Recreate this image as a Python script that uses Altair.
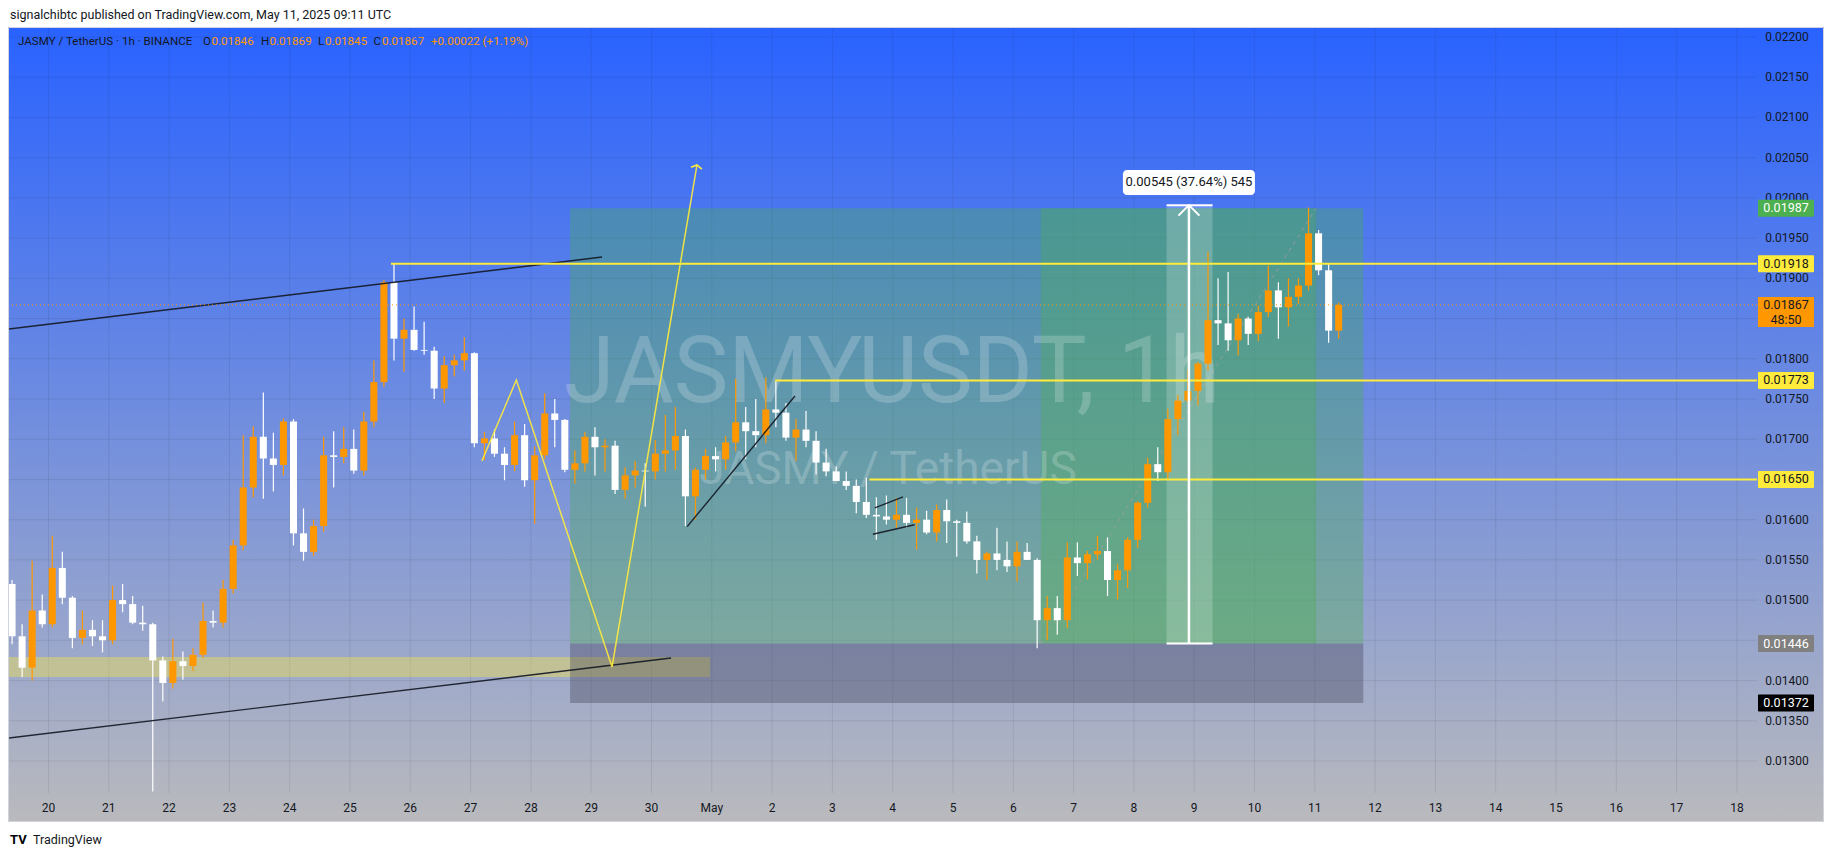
import altair as alt
import pandas as pd

# ---------------- values ----------------
# 4-hour buckets, start hour counted from 2025-04-20 00:00 UTC
bucket_hour = list(range(-16, 513, 4))
open_p = [0.01520, 0.01455, 0.01416, 0.01487, 0.01470, 0.01540, 0.01503, 0.01453, 0.01463, 0.01455,
          0.01450, 0.01500, 0.01495, 0.01472, 0.01470, 0.01425, 0.01397, 0.01424, 0.01418, 0.01432,
          0.01474, 0.01472, 0.01514, 0.01568, 0.01640, 0.01703, 0.01676, 0.01668, 0.01722, 0.01583,
          0.01560, 0.01592, 0.01680, 0.01678, 0.01688, 0.01661, 0.01722, 0.01771, 0.01895, 0.01825,
          0.01836, 0.01811, 0.01810, 0.01763, 0.01792, 0.01798, 0.01807, 0.01695, 0.01701, 0.01682,
          0.01668, 0.01705, 0.01649, 0.01680, 0.01732, 0.01724, 0.01662, 0.01670, 0.01703, 0.01690,
          0.01692, 0.01637, 0.01655, 0.01661, 0.01660, 0.01682, 0.01686, 0.01704, 0.01629, 0.01662,
          0.01679, 0.01675, 0.01696, 0.01721, 0.01710, 0.01705, 0.01737, 0.01733, 0.01702, 0.01712,
          0.01698, 0.01671, 0.01660, 0.01648, 0.01642, 0.01622, 0.01606, 0.01604, 0.01600, 0.01606,
          0.01596, 0.01600, 0.01584, 0.01612, 0.01598, 0.01596, 0.01573, 0.01550, 0.01558, 0.01550,
          0.01542, 0.01560, 0.01550, 0.01475, 0.01490, 0.01475, 0.01553, 0.01546, 0.01557, 0.01561,
          0.01525, 0.01537, 0.01575, 0.01621, 0.01669, 0.01659, 0.01725, 0.01748, 0.01760, 0.01794,
          0.01848, 0.01844, 0.01823, 0.01850, 0.01831, 0.01858, 0.01885, 0.01864, 0.01877, 0.01891,
          0.01956, 0.01910, 0.01835]
high_p = [0.01525, 0.01470, 0.01549, 0.01507, 0.01580, 0.01560, 0.01505, 0.01487, 0.01475, 0.01475,
          0.01518, 0.01520, 0.01505, 0.01493, 0.01472, 0.01430, 0.01452, 0.01436, 0.01440, 0.01497,
          0.01487, 0.01525, 0.01575, 0.01705, 0.01716, 0.01758, 0.01708, 0.01726, 0.01725, 0.01614,
          0.01600, 0.01703, 0.01710, 0.01715, 0.01712, 0.01734, 0.01798, 0.01898, 0.01918, 0.01850,
          0.01865, 0.01846, 0.01815, 0.01803, 0.01805, 0.01827, 0.01808, 0.01709, 0.01712, 0.01690,
          0.01722, 0.01719, 0.01691, 0.01757, 0.01750, 0.01725, 0.01686, 0.01709, 0.01715, 0.01700,
          0.01698, 0.01665, 0.01673, 0.01670, 0.01699, 0.01730, 0.01740, 0.01712, 0.01665, 0.01688,
          0.01690, 0.01704, 0.01775, 0.01740, 0.01750, 0.01777, 0.01772, 0.01745, 0.01725, 0.01735,
          0.01710, 0.01688, 0.01666, 0.01660, 0.01650, 0.01652, 0.01628, 0.01630, 0.01627, 0.01627,
          0.01615, 0.01611, 0.01619, 0.01625, 0.01600, 0.01610, 0.01580, 0.01560, 0.01590, 0.01573,
          0.01573, 0.01571, 0.01552, 0.01505, 0.01505, 0.01572, 0.01572, 0.01561, 0.01580, 0.01578,
          0.01545, 0.01578, 0.01623, 0.01677, 0.01690, 0.01738, 0.01755, 0.01786, 0.01796, 0.01933,
          0.01900, 0.01908, 0.01856, 0.01852, 0.01866, 0.01916, 0.01895, 0.01900, 0.01900, 0.01988,
          0.01960, 0.01918, 0.01870]
low_p = [0.01445, 0.01404, 0.01400, 0.01466, 0.01466, 0.01495, 0.01440, 0.01445, 0.01443, 0.01435,
         0.01445, 0.01485, 0.01470, 0.01462, 0.01262, 0.01374, 0.01390, 0.01401, 0.01412, 0.01428,
         0.01466, 0.01466, 0.01508, 0.01562, 0.01628, 0.01626, 0.01635, 0.01655, 0.01568, 0.01549,
         0.01555, 0.01585, 0.01640, 0.01670, 0.01657, 0.01655, 0.01715, 0.01765, 0.01798, 0.01784,
         0.01810, 0.01805, 0.01750, 0.01745, 0.01778, 0.01785, 0.01690, 0.01674, 0.01678, 0.01649,
         0.01660, 0.01641, 0.01595, 0.01675, 0.01690, 0.01659, 0.01645, 0.01660, 0.01655, 0.01660,
         0.01632, 0.01626, 0.01640, 0.01616, 0.01650, 0.01660, 0.01662, 0.01592, 0.01600, 0.01650,
         0.01660, 0.01662, 0.01685, 0.01675, 0.01690, 0.01695, 0.01715, 0.01698, 0.01673, 0.01690,
         0.01656, 0.01654, 0.01648, 0.01637, 0.01608, 0.01602, 0.01575, 0.01594, 0.01590, 0.01590,
         0.01563, 0.01582, 0.01573, 0.01571, 0.01554, 0.01570, 0.01533, 0.01525, 0.01537, 0.01535,
         0.01523, 0.01550, 0.01440, 0.01450, 0.01457, 0.01465, 0.01530, 0.01526, 0.01550, 0.01505,
         0.01501, 0.01515, 0.01565, 0.01615, 0.01648, 0.01650, 0.01705, 0.01745, 0.01742, 0.01785,
         0.01817, 0.01810, 0.01804, 0.01817, 0.01822, 0.01852, 0.01825, 0.01840, 0.01868, 0.01885,
         0.01904, 0.01820, 0.01825]
close_p = [0.01455, 0.01416, 0.01487, 0.01470, 0.01540, 0.01503, 0.01453, 0.01463, 0.01455, 0.01450,
           0.01500, 0.01495, 0.01472, 0.01470, 0.01425, 0.01397, 0.01424, 0.01418, 0.01432, 0.01474,
           0.01472, 0.01514, 0.01568, 0.01640, 0.01703, 0.01676, 0.01668, 0.01722, 0.01583, 0.01560,
           0.01592, 0.01680, 0.01678, 0.01688, 0.01661, 0.01722, 0.01771, 0.01895, 0.01825, 0.01836,
           0.01811, 0.01810, 0.01763, 0.01792, 0.01798, 0.01807, 0.01695, 0.01701, 0.01682, 0.01668,
           0.01705, 0.01649, 0.01680, 0.01732, 0.01724, 0.01662, 0.01670, 0.01703, 0.01690, 0.01692,
           0.01637, 0.01655, 0.01661, 0.01660, 0.01682, 0.01686, 0.01704, 0.01629, 0.01662, 0.01679,
           0.01675, 0.01696, 0.01721, 0.01710, 0.01705, 0.01737, 0.01733, 0.01702, 0.01712, 0.01698,
           0.01671, 0.01660, 0.01648, 0.01642, 0.01622, 0.01606, 0.01604, 0.01600, 0.01606, 0.01596,
           0.01600, 0.01584, 0.01612, 0.01598, 0.01596, 0.01573, 0.01550, 0.01558, 0.01550, 0.01542,
           0.01560, 0.01550, 0.01475, 0.01490, 0.01475, 0.01553, 0.01546, 0.01557, 0.01561, 0.01525,
           0.01537, 0.01575, 0.01621, 0.01669, 0.01659, 0.01725, 0.01748, 0.01760, 0.01794, 0.01848,
           0.01844, 0.01823, 0.01850, 0.01831, 0.01858, 0.01885, 0.01864, 0.01877, 0.01891, 0.01956,
           0.01910, 0.01835, 0.01867]

# price scale labels that are visible (others hidden under coloured tags)
price_ticks = [0.0130, 0.0135, 0.0140, 0.0150, 0.0155, 0.0160, 0.0170, 0.0175,
               0.0180, 0.0190, 0.0195, 0.0200, 0.0205, 0.0210, 0.0215, 0.0220]
grid_prices = [0.0130, 0.0135, 0.0140, 0.0145, 0.0150, 0.0155, 0.0160, 0.0165, 0.0170, 0.0175,
               0.0180, 0.0185, 0.0190, 0.0195, 0.0200, 0.0205, 0.0210, 0.0215, 0.0220]
day_labels = ["20", "21", "22", "23", "24", "25", "26", "27", "28", "29", "30", "May",
              "2", "3", "4", "5", "6", "7", "8", "9", "10", "11", "12", "13", "14", "15", "16", "17", "18"]
day_index = list(range(len(day_labels)))

# drawings (hour, price)
level_prices = [0.01918, 0.01773, 0.01650]
level_start = [136.3, 289.2, 326.7]
level_end = 680.0
last_price = 0.01867
countdown = "48:50"
pos_entry, pos_target, pos_stop = 0.01446, 0.01987, 0.01372
pos_h0, pos_h1 = 207.6, 523.3
pos_fill_h0, pos_fill_h1 = 395.0, 504.5
meas_h0, meas_h1, meas_mid = 445.0, 463.3, 453.9
meas_lo, meas_hi = 0.01446, 0.01991
meas_label, meas_label_p = "0.00545 (37.64%) 545", 0.020192
trend_names = ["upper", "upper", "lower", "lower", "wedge", "wedge", "flag_top", "flag_top", "flag_bot", "flag_bot"]
trend_h = [-15.7, 220.3, -15.7, 247.8, 254.2, 297.1, 328.9, 340.1, 328.1, 344.7]
trend_p = [0.018370, 0.019265, 0.013286, 0.014280, 0.015913, 0.017537, 0.016146, 0.016283, 0.015818, 0.015937]
zig_h = [172.5, 186.2, 224.3, 258.1]
zig_p = [0.016729, 0.017736, 0.014169, 0.020409]
zone_h0, zone_h1, zone_lo, zone_hi = -16.1, 263.3, 0.014044, 0.014293
tag_text = ["0.01987", "0.01918", "0.01773", "0.01650", "0.01446", "0.01372"]
tag_price = [0.01987, 0.01918, 0.01773, 0.01650, 0.01446, 0.01372]
tag_kind = ["target", "level", "level", "level", "entry", "stop"]
legend_ohlc = [("O", "0.01846"), ("H", "0.01869"), ("L", "0.01845"), ("C", "0.01867")]
legend_change = "+0.00022 (+1.19%)"
header = "signalchibtc published on TradingView.com, May 11, 2025 09:11 UTC"
symbol_line = "JASMY / TetherUS \u00b7 1h \u00b7 BINANCE"

# ---------------- chart ----------------
W, H = 1819, 841
FONT = "Roboto"
DARK = "#131722"
xs = alt.Scale(domain=[-16.119, 707.86], nice=False, zero=False)
ys = alt.Scale(domain=[0.011906, 0.0223605], nice=False, zero=False)


def X(f):
    return alt.X(f, type="quantitative", scale=xs, axis=None)


def Y(f):
    return alt.Y(f, type="quantitative", scale=ys, axis=None)


def box(h0, h1, lo, hi, color, opacity):
    d = pd.DataFrame({"h0": [h0], "h1": [h1], "lo": [lo], "hi": [hi]})
    return alt.Chart(d).mark_rect(color=color, opacity=opacity).encode(
        x=X("h0"), x2=alt.X2("h1"), y=Y("lo"), y2=alt.Y2("hi"))


one = pd.DataFrame({"k": [0]})
layers = []

grad = alt.LinearGradient(gradient="linear",
                          stops=[alt.GradientStop(color="#2962FF", offset=0),
                                 alt.GradientStop(color="#BABABD", offset=1)],
                          x1=0, x2=0, y1=0, y2=1)
layers.append(alt.Chart(one).mark_rect(color=grad).encode(
    x=alt.value(0), x2=alt.value(1816), y=alt.value(19), y2=alt.value(814)))

# grid
layers.append(alt.Chart(pd.DataFrame({"d": day_index})).transform_calculate(h="datum.d * 24")
              .mark_rule(color="#2A2E39", opacity=0.1, strokeWidth=1)
              .encode(x=X("h"), y=alt.value(19), y2=alt.value(785)))
layers.append(alt.Chart(pd.DataFrame({"p": grid_prices})).mark_rule(color="#2A2E39", opacity=0.1, strokeWidth=1)
              .encode(y=Y("p"), x=alt.value(0), x2=alt.value(1749)))

# support zone
layers.append(box(zone_h0, zone_h1, zone_lo, zone_hi, "#FFEB3B", 0.37))

# long position tool
layers.append(box(pos_h0, pos_h1, pos_entry, pos_target, "#4CAF50", 0.36))
layers.append(box(pos_fill_h0, pos_fill_h1, pos_entry, pos_target, "#4CAF50", 0.33))
layers.append(box(pos_h0, pos_h1, pos_stop, pos_entry, "#3C3C50", 0.35))
# entry -> exit dashed
layers.append(alt.Chart(pd.DataFrame({"h": [pos_fill_h0, pos_fill_h1], "p": [pos_entry, pos_target]}))
              .mark_line(color="#9E9E9E", strokeDash=[4, 4], strokeWidth=1, opacity=0.8)
              .encode(x=X("h"), y=Y("p")))

# measurement band
layers.append(box(meas_h0, meas_h1, meas_lo, meas_hi, "#FFFFFF", 0.2))

# watermark
layers.append(alt.Chart(one).mark_text(text="JASMYUSDT, 1h", font=FONT, fontSize=92, color="#FFFFFF",
                                       opacity=0.2, align="center", baseline="alphabetic")
              .encode(x=alt.value(884), y=alt.value(394)))
layers.append(alt.Chart(one).mark_text(text="JASMY / TetherUS", font=FONT, fontSize=46, color="#FFFFFF",
                                       opacity=0.2, align="center", baseline="alphabetic")
              .encode(x=alt.value(880), y=alt.value(476)))

# candles
cdf = pd.DataFrame({"h": bucket_hour, "o": open_p, "hi": high_p, "lo": low_p, "c": close_p})
cdf["dir"] = ["up" if c >= o else "down" for o, c in zip(cdf["o"], cdf["c"])]
ccol = alt.Color("dir:N", scale=alt.Scale(domain=["up", "down"], range=["#FF9800", "#FFFFFF"]), legend=None)
cbase = alt.Chart(cdf).transform_calculate(xm="datum.h + 1.5", x0="datum.h + 0.1", x1="datum.h + 2.9")
layers.append(cbase.mark_rule(strokeWidth=1.2).encode(x=X("xm"), y=Y("lo"), y2=alt.Y2("hi"), color=ccol))
layers.append(cbase.mark_rect().encode(x=X("x0"), x2=alt.X2("x1"), y=Y("o"), y2=alt.Y2("c"), color=ccol))

# trend lines
tdf = pd.DataFrame({"line": trend_names, "h": trend_h, "p": trend_p})
layers.append(alt.Chart(tdf).mark_line(color="#131722", strokeWidth=1.4, opacity=0.9)
              .encode(x=X("h"), y=Y("p"), detail="line:N"))

# horizontal levels
ldf = pd.DataFrame({"h0": level_start, "h1": [level_end] * 3, "p": level_prices})
layers.append(alt.Chart(ldf).mark_rule(color="#FFEB3B", strokeWidth=2)
              .encode(x=X("h0"), x2=alt.X2("h1"), y=Y("p")))

# zigzag projection with arrow
zdf = pd.DataFrame({"i": list(range(len(zig_h))), "h": zig_h, "p": zig_p})
layers.append(alt.Chart(zdf).mark_line(color="#FFEB3B", strokeWidth=1.5, opacity=0.9)
              .encode(x=X("h"), y=Y("p"), order="i:Q"))
layers.append(alt.Chart(zdf.tail(1)).mark_point(shape="M-1,0.6L0,0L1,0.6", size=121, filled=False,
                                                 stroke="#FFEB3B", strokeWidth=1.5, angle=9.6, opacity=1)
              .encode(x=X("h"), y=Y("p")))

# current price dotted line
layers.append(alt.Chart(pd.DataFrame({"p": [last_price]})).mark_rule(color="#FF9800", strokeDash=[1, 3], strokeWidth=1)
              .encode(y=Y("p"), x=alt.value(0), x2=alt.value(1749)))

# measurement tool
layers.append(alt.Chart(pd.DataFrame({"h": [meas_mid], "lo": [meas_lo], "hi": [meas_hi]}))
              .mark_rule(color="#FFFFFF", strokeWidth=2.5).encode(x=X("h"), y=Y("lo"), y2=alt.Y2("hi")))
layers.append(alt.Chart(pd.DataFrame({"h0": [meas_h0, meas_h0], "h1": [meas_h1, meas_h1], "p": [meas_lo, meas_hi]}))
              .mark_rule(color="#FFFFFF", strokeWidth=2).encode(x=X("h0"), x2=alt.X2("h1"), y=Y("p")))
layers.append(alt.Chart(pd.DataFrame({"h": [meas_mid], "p": [meas_hi]}))
              .mark_point(shape="M-1,1L0,0L1,1", size=440, filled=False, stroke="#FFFFFF", strokeWidth=2, opacity=1)
              .encode(x=X("h"), y=Y("p")))
mlab = pd.DataFrame({"h": [meas_mid], "p": [meas_label_p], "t": [meas_label]})
layers.append(alt.Chart(mlab).mark_rect(color="#FFFFFF", cornerRadius=4, xOffset=-66, x2Offset=66,
                                        yOffset=-12.5, y2Offset=12.5)
              .encode(x=X("h"), x2=alt.X2("h"), y=Y("p"), y2=alt.Y2("p")))
layers.append(alt.Chart(mlab).mark_text(font=FONT, fontSize=13, color=DARK, align="center", baseline="middle")
              .encode(x=X("h"), y=Y("p"), text="t:N"))

# price scale labels
pdf = pd.DataFrame({"p": price_ticks, "t": [f"{v:.5f}" for v in price_ticks]})
layers.append(alt.Chart(pdf).mark_text(font=FONT, fontSize=12, color=DARK, align="center", baseline="middle")
              .encode(x=alt.value(1779), y=Y("p"), text="t:N"))
# time scale labels
ddf = pd.DataFrame({"d": day_index, "t": day_labels})
layers.append(alt.Chart(ddf).transform_calculate(h="datum.d * 24")
              .mark_text(font=FONT, fontSize=12, color=DARK, align="center", baseline="middle")
              .encode(x=X("h"), y=alt.value(800), text="t:N"))

# coloured price tags
tag_fill = {"target": "#4CAF50", "level": "#FFEB3B", "entry": "#808080", "stop": "#000000"}
tag_ink = {"target": "#FFFFFF", "level": DARK, "entry": "#FFFFFF", "stop": "#FFFFFF"}
for t, p, k in zip(tag_text, tag_price, tag_kind):
    tdf1 = pd.DataFrame({"p": [p], "t": [t]})
    layers.append(alt.Chart(tdf1).mark_rect(color=tag_fill[k], yOffset=-8.5, y2Offset=8.5, cornerRadius=1)
                  .encode(x=alt.value(1750), x2=alt.value(1806), y=Y("p"), y2=alt.Y2("p")))
    layers.append(alt.Chart(tdf1).mark_text(font=FONT, fontSize=12.5, color=tag_ink[k], align="center", baseline="middle")
                  .encode(x=alt.value(1778), y=Y("p"), text="t:N"))
cur = pd.DataFrame({"p": [last_price], "t": [f"{last_price:.5f}"], "cd": [countdown]})
layers.append(alt.Chart(cur).mark_rect(color="#FF9800", yOffset=-8, y2Offset=22)
              .encode(x=alt.value(1750), x2=alt.value(1806), y=Y("p"), y2=alt.Y2("p")))
layers.append(alt.Chart(cur).mark_text(font=FONT, fontSize=12.5, color=DARK, align="center", baseline="middle")
              .encode(x=alt.value(1778), y=Y("p"), text="t:N"))
layers.append(alt.Chart(cur).mark_text(font=FONT, fontSize=12.5, color=DARK, align="center", baseline="middle", dy=15)
              .encode(x=alt.value(1778), y=Y("p"), text="cd:N"))


# header / legend / logo
def label(txt, x, y, color=DARK, size=12, weight="normal"):
    return alt.Chart(one).mark_text(text=txt, font=FONT, fontSize=size, color=color, align="left",
                                    baseline="middle", fontWeight=weight).encode(x=alt.value(x), y=alt.value(y))


layers.append(label(header, 2, 7, size=12.5))
layers.append(label(symbol_line, 10, 34, size=11.6))
lx = [(195, 203.5), (253, 261.5), (310, 317), (365.5, 374)]
for (k, v), (xk, xv) in zip(legend_ohlc, lx):
    layers.append(label(k, xk, 34, size=11.6))
    layers.append(label(v, xv, 34, color="#FF9800", size=11.6))
layers.append(label(legend_change, 423, 34, color="#FF9800", size=11.6))
layers.append(label("TV", 2, 832, color="#000000", size=13, weight="bold"))
layers.append(label("TradingView", 25, 832, color=DARK, size=12.5))

# frame
layers.append(alt.Chart(one).mark_rect(fillOpacity=0, stroke="#D1D4DC", strokeWidth=1)
              .encode(x=alt.value(0.5), x2=alt.value(1815.5), y=alt.value(19.5), y2=alt.value(813.5)))

chart = alt.layer(*layers).properties(
    width=W, height=H, autosize=alt.AutoSizeParams(type="none"), padding=0, background="#FFFFFF"
).configure_view(stroke=None)

chart.save("out.html", embed_options={"renderer": "svg", "actions": False})
